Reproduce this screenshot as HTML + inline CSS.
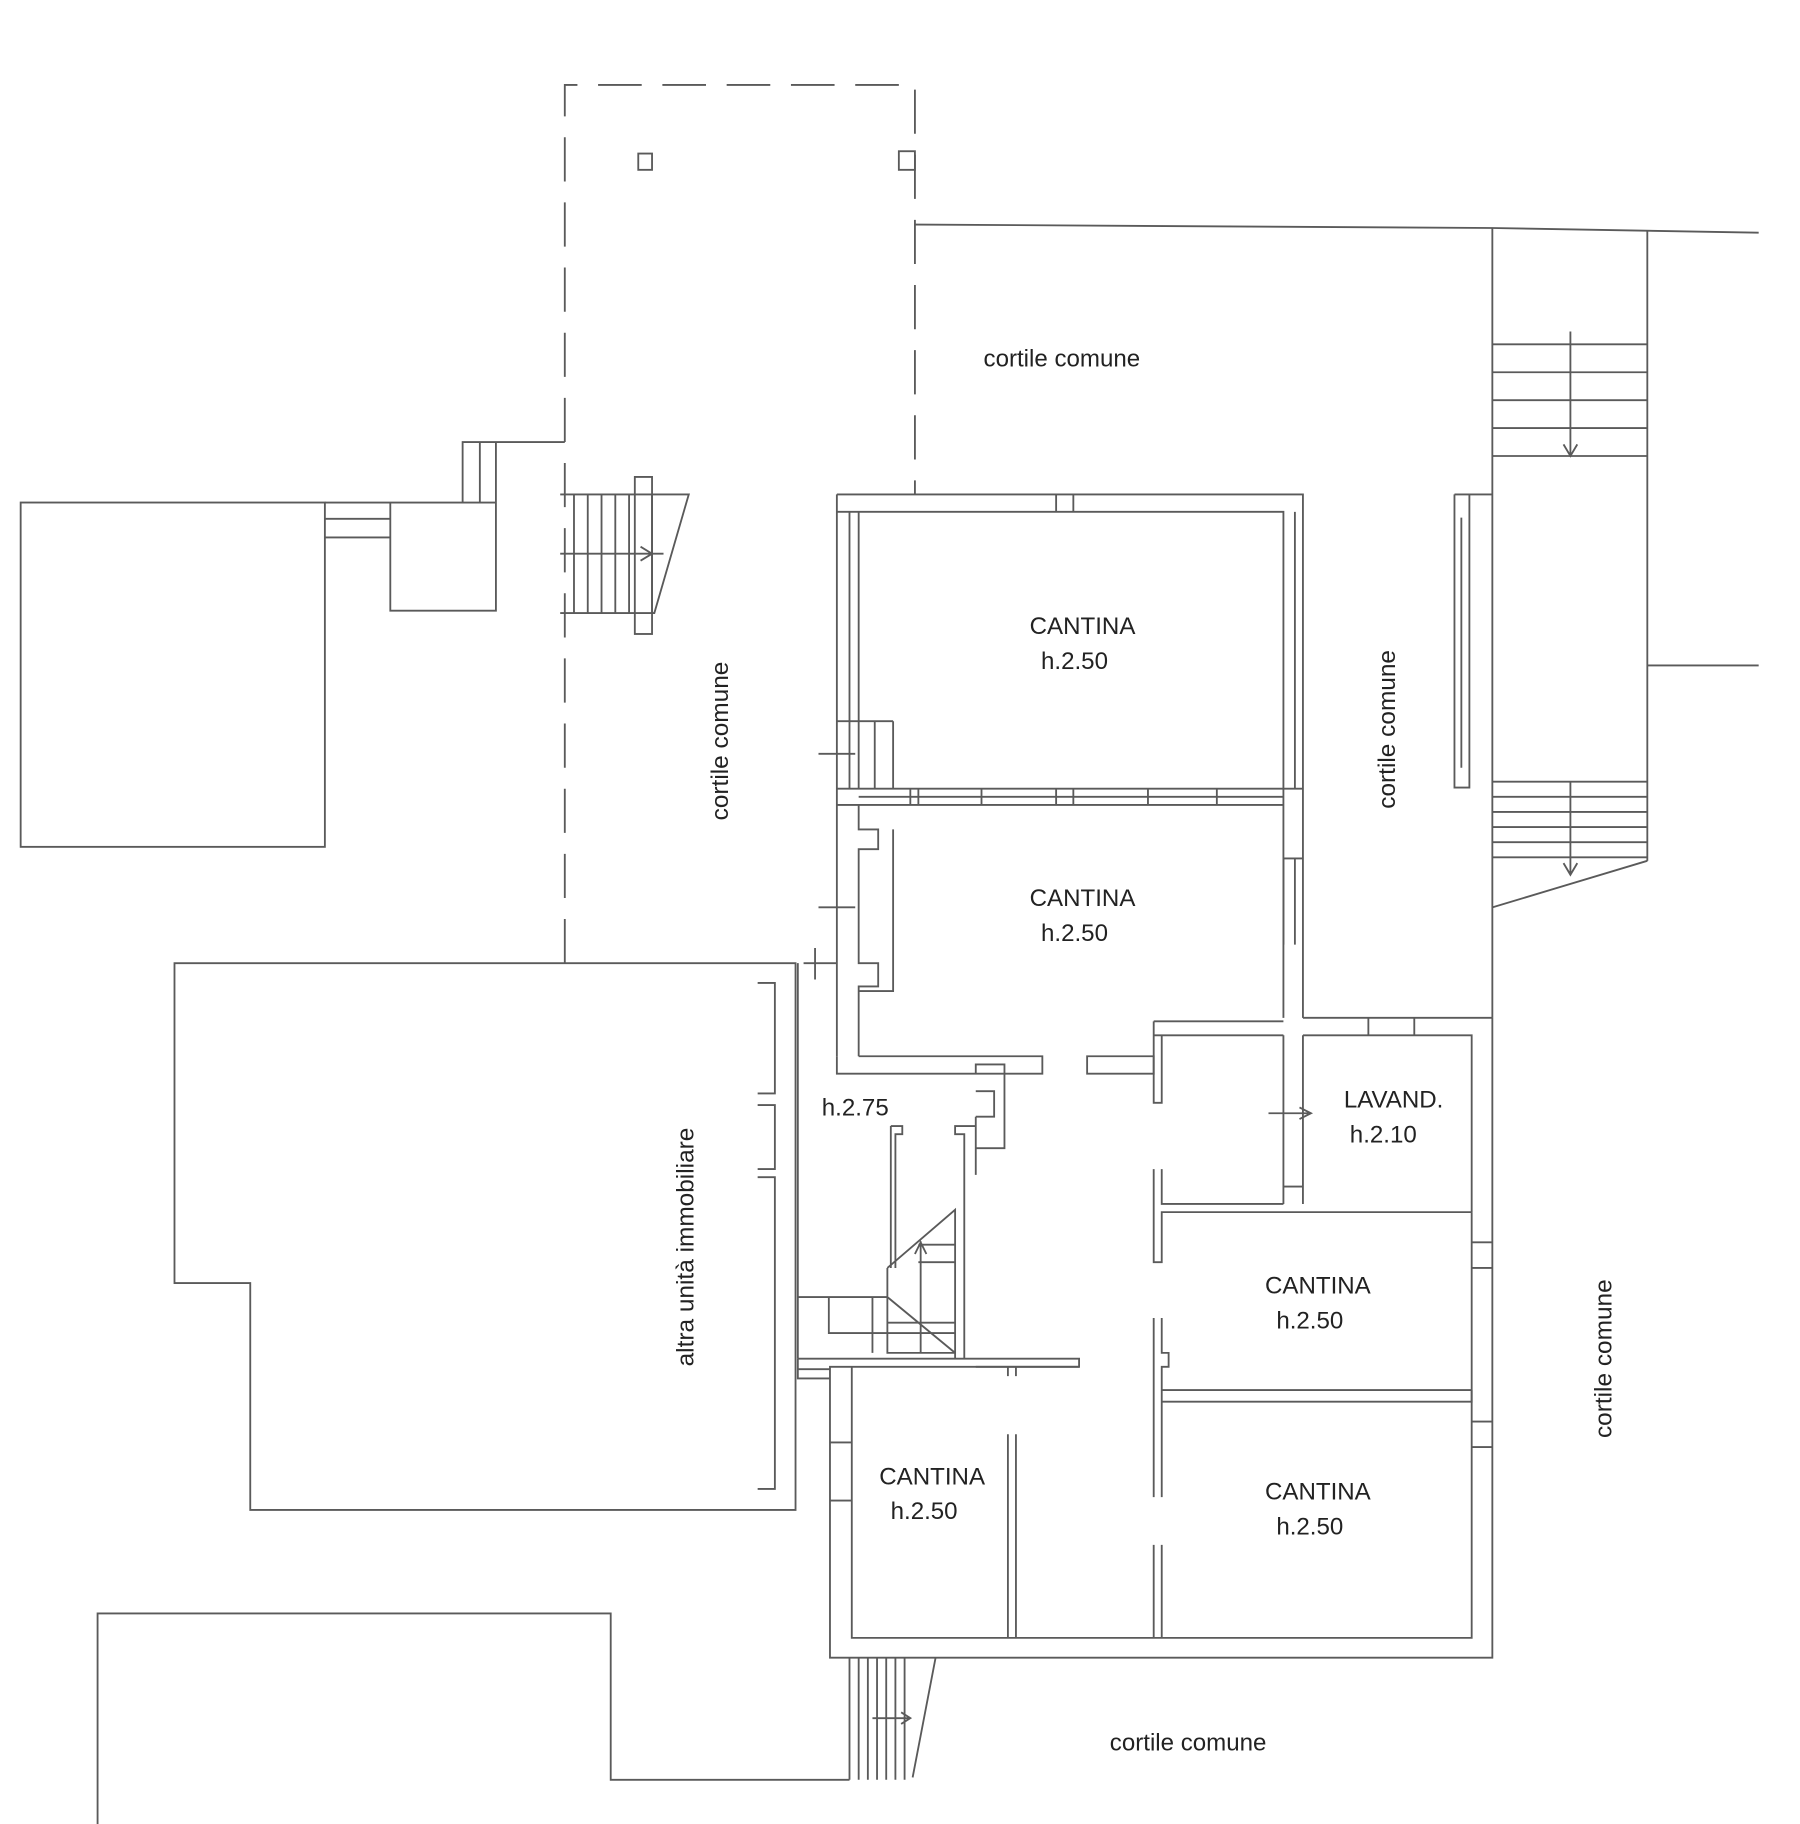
<!DOCTYPE html>
<html><head><style>html,body{margin:0;padding:0;background:#fff}svg{display:block}</style></head>
<body>
<svg width="1800" height="1824" viewBox="0 0 1568 1568" preserveAspectRatio="none" xmlns="http://www.w3.org/2000/svg">
<g fill="none" stroke="#5a5a5a" stroke-width="1.6">
<!-- dashed area -->
<path d="M492 828 V73 H797 V425" stroke-dasharray="38 18"/>
<rect x="556" y="132" width="12" height="14"/><rect x="783" y="130" width="14" height="16"/>
<!-- top boundary -->
<path d="M797 193 L1300 196 L1532 200"/>
<path d="M1300 196 V875 M1435 198 V740 M1435 572 H1532"/>
<path d="M1300 296 H1435 M1300 320 H1435 M1300 344 H1435 M1300 368 H1435 M1300 392 H1435"/>
<path d="M1368 285 V392 M1362 382 L1368 392 L1374 382"/>
<path d="M1300 672 H1435 M1300 685 H1435 M1300 698 H1435 M1300 711 H1435 M1300 724 H1435 M1300 737 H1435 M1300 780 L1435 740"/>
<path d="M1368 672 V752 M1362 742 L1368 752 L1374 742"/>
<path d="M1267 425 H1300 M1267 425 V677 H1280 V425 M1273 445 V660"/>
<!-- left box -->
<rect x="18" y="432" width="265" height="296"/>
<path d="M283 432 H340 M283 446 H340 M283 462 H340 M340 432 V525 H432 V432 H340 M403 432 V380 H492 M418 380 V432 M432 380 V432"/>
<!-- small stair -->
<path d="M488 425 H600 L570 527 H488 M488 476 H578 M500 425 V527 M512 425 V527 M524 425 V527 M536 425 V527 M548 425 V527 M568 425 V527 M558 470 L568 476 L558 482"/>
<rect x="553" y="410" width="15" height="135"/>
<!-- upper building -->
<path d="M729 425 H1135 V875 M729 440 H1118 V875 M729 425 V908 M740 440 V678 M748 440 V678"/>
<path d="M920 425 V440 M935 425 V440"/>
<path d="M729 678 H1135 M729 692 H1118 M748 685 H1118 M793 678 V692 M800 678 V692 M855 678 V692 M920 678 V692 M935 678 V692 M1000 678 V692 M1060 678 V692"/>
<path d="M729 620 H762 V678 M778 620 V678 M762 620 H778 M713 648 H745"/>
<path d="M1128 440 V678 M1118 738 H1135 M1118 738 V812 M1128 738 V812"/>
<path d="M748 692 V713 H765 V730 H748 V828 H765 V848 H748 V908 M778 713 V852 H748"/>
<path d="M729 908 V923 H908 V908 H748 M713 780 H745 M700 828 H729 M710 815 V842"/>
<path d="M947 908 H1005 V923 H947 Z"/>
<path d="M850 923 V915 H875 V987 H850 M850 938 H866 V960 H850 M850 960 V1010 M850 1010 V968 H832 V975 H840 V1168"/>
<path d="M776 968 H786 V975 H780 V1090 M776 968 V1090"/>
<path d="M695 828 V1168 M695 1115 H773 M695 1168 H940 V1175 H850 M722 1115 V1146 H832"/>
<path d="M773 1090 L832 1040 V1168 M773 1090 V1163 H832 M773 1115 L832 1163 M800 1085 H832 M800 1070 H832 M773 1137 H832 M802 1067 V1163 M797 1078 L802 1068 L807 1078"/>
<path d="M760 1115 V1163"/>
<!-- interior partitions -->
<path d="M1005 878 H1118 M1005 890 H1118 M1005 878 V948 H1012 V890 M1005 1005 V1085 H1012 V1042 H1282 M1012 1005 V1035 H1118 M1118 890 V1035 M1135 875 H1300 M1135 890 H1282 V1042 M1135 890 V1035 M1118 1020 H1135"/>
<path d="M1192 875 V890 M1232 875 V890"/>
<path d="M1105 957 H1140 M1132 952 L1142 957 L1132 962"/>
<path d="M1005 1133 V1287 M1012 1133 V1163 H1018 V1175 H1012 V1287 M1012 1195 H1282 M1012 1205 H1282 V1195 M1005 1328 V1408 M1012 1328 V1408"/>
<path d="M1282 1068 H1300 M1282 1090 H1300 M1282 1222 H1300 M1282 1244 H1300"/>
<!-- lower building outer -->
<path d="M1300 875 V1425 H723 V1175 H742 V1408 H1282 V1042 M723 1240 H742 M723 1290 H742 M742 1175 H940"/>
<path d="M878 1175 V1183 M885 1175 V1183 M878 1233 V1408 M885 1233 V1408"/>
<path d="M695 1168 V1185 H723 M695 1177 H723"/>
<!-- altra unita -->
<path d="M152 828 H693 V1298 H218 V1103 H152 Z"/>
<path d="M660 845 H675 V940 H660 M660 950 H675 V1005 H660 M660 1012 H675 V1280 H660"/>
<!-- bottom -->
<path d="M85 1568 V1387 H532 V1530 H740"/>
<path d="M740 1425 V1530 M748 1425 V1530 M756 1425 V1530 M764 1425 V1530 M772 1425 V1530 M780 1425 V1530 M788 1425 V1530 M815 1425 L795 1528 M760 1477 H793 M785 1472 L793 1477 L785 1482"/>
</g>
<g font-family="Liberation Sans, sans-serif" font-size="21" fill="#222" text-anchor="middle">
<text x="925" y="315">cortile comune</text>
<text x="1035" y="1505">cortile comune</text>
<text transform="translate(634,637) rotate(-90)">cortile comune</text>
<text transform="translate(1215,627) rotate(-90)">cortile comune</text>
<text transform="translate(1404,1168) rotate(-90)">cortile comune</text>
<text transform="translate(604,1072) rotate(-90)">altra unità immobiliare</text>
<text x="943" y="545">CANTINA</text><text x="936" y="575">h.2.50</text>
<text x="943" y="779">CANTINA</text><text x="936" y="809">h.2.50</text>
<text x="1214" y="952">LAVAND.</text><text x="1205" y="982">h.2.10</text>
<text x="1148" y="1112">CANTINA</text><text x="1141" y="1142">h.2.50</text>
<text x="1148" y="1289">CANTINA</text><text x="1141" y="1319">h.2.50</text>
<text x="812" y="1276">CANTINA</text><text x="805" y="1306">h.2.50</text>
<text x="745" y="959">h.2.75</text>
</g>
</svg>
</body></html>
